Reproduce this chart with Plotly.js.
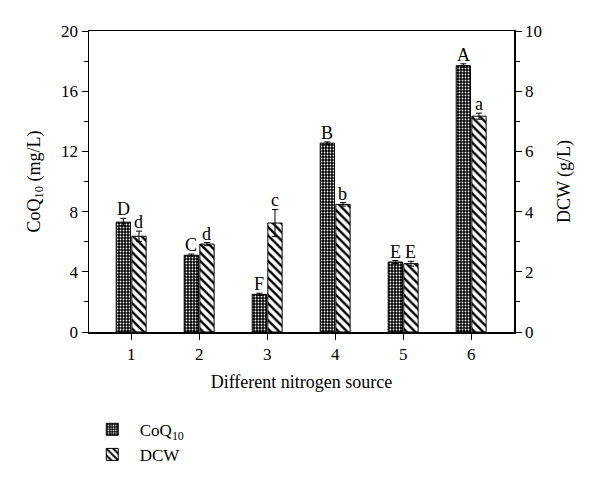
<!DOCTYPE html>
<html><head><meta charset="utf-8">
<script src="https://cdn.plot.ly/plotly-3.0.1.min.js"></script>
<style>body{margin:0;padding:0;background:#fff}#chart{width:600px;height:490px}</style>
</head><body><div id="chart"></div>
<script>
const sources = [1, 2, 3, 4, 5, 6];
const coq10 = [7.3, 5.1, 2.5, 12.55, 4.65, 17.7];
const coq10Err = [0.25, 0.08, 0.08, 0.08, 0.1, 0.12];
const dcw = [3.18, 2.92, 3.62, 4.24, 2.27, 7.17];
const dcwErr = [0.17, 0.05, 0.45, 0.06, 0.08, 0.1];
const coq10Letters = ['D', 'C', 'F', 'B', 'E', 'A'];
const dcwLetters = ['d', 'd', 'c', 'b', 'E', 'a'];

const font = 'Liberation Serif, Times New Roman, serif';
const barW = 0.21, gap = 0.02;

const traces = [
  {
    type: 'bar', name: 'CoQ<sub>10</sub>', x: sources, y: coq10,
    width: barW, offset: -barW - gap / 2,
    marker: {color: '#000', line: {color: '#000', width: 1},
      pattern: {shape: '.', fgcolor: '#fff', bgcolor: '#000', size: 3, solidity: 0.3}},
    error_y: {type: 'data', array: coq10Err, visible: true, color: '#000', thickness: 1, width: 3},
    yaxis: 'y'
  },
  {
    type: 'bar', name: 'DCW', x: sources, y: dcw,
    width: barW, offset: gap / 2,
    marker: {color: '#fff', line: {color: '#000', width: 1},
      pattern: {shape: '\\', fgcolor: '#000', bgcolor: '#fff', size: 6, solidity: 0.4}},
    error_y: {type: 'data', array: dcwErr, visible: true, color: '#000', thickness: 1, width: 3},
    yaxis: 'y2'
  }
];

const annotations = [];
sources.forEach((s, i) => {
  annotations.push({x: s - barW / 2 - gap / 2, y: coq10[i] + coq10Err[i], xref: 'x', yref: 'y',
    text: coq10Letters[i], showarrow: false, yanchor: 'bottom', yshift: -3,
    font: {family: font, size: 18, color: '#000'}});
  annotations.push({x: s + barW / 2 + gap / 2, y: dcw[i] + dcwErr[i], xref: 'x', yref: 'y2',
    text: dcwLetters[i], showarrow: false, yanchor: 'bottom', yshift: -3,
    font: {family: font, size: 18, color: '#000'}});
});

const axisCommon = {
  showline: true, linecolor: '#000', linewidth: 1.5, ticks: 'outside', ticklen: 6,
  tickwidth: 1, tickcolor: '#000', showgrid: false, zeroline: false,
  tickfont: {family: font, size: 17, color: '#000'}
};

const layout = {
  width: 600, height: 490,
  margin: {l: 89, r: 86, t: 31, b: 158},
  paper_bgcolor: '#fff', plot_bgcolor: '#fff',
  font: {family: font, color: '#000'},
  barmode: 'overlay',
  showlegend: true,
  legend: {x: -0.01, y: -0.265, xanchor: 'left', yanchor: 'top', itemwidth: 45,
    font: {family: font, size: 17, color: '#000'}, tracegroupgap: 0, bgcolor: 'rgba(0,0,0,0)'},
  xaxis: Object.assign({}, axisCommon, {
    range: [0.38, 6.63], tickvals: sources, ticktext: sources.map(String),
    mirror: true,
    title: {text: 'Different nitrogen source', font: {family: font, size: 18, color: '#000'}, standoff: 12}
  }),
  yaxis: Object.assign({}, axisCommon, {
    range: [0, 20], dtick: 4, tick0: 0,
    minor: {dtick: 2, ticks: 'outside', ticklen: 4, tickcolor: '#000', showgrid: false},
    title: {text: 'CoQ<sub>10</sub> (mg/L)', font: {family: font, size: 18, color: '#000'}, standoff: 16}
  }),
  yaxis2: Object.assign({}, axisCommon, {
    overlaying: 'y', side: 'right', range: [0, 10], dtick: 2, tick0: 0,
    minor: {dtick: 1, ticks: 'outside', ticklen: 4, tickcolor: '#000', showgrid: false},
    title: {text: 'DCW (g/L)', font: {family: font, size: 18, color: '#000'}, standoff: 16}
  }),
  annotations: annotations
};

Plotly.newPlot('chart', traces, layout, {displayModeBar: false, staticPlot: true});
</script>
</body></html>
